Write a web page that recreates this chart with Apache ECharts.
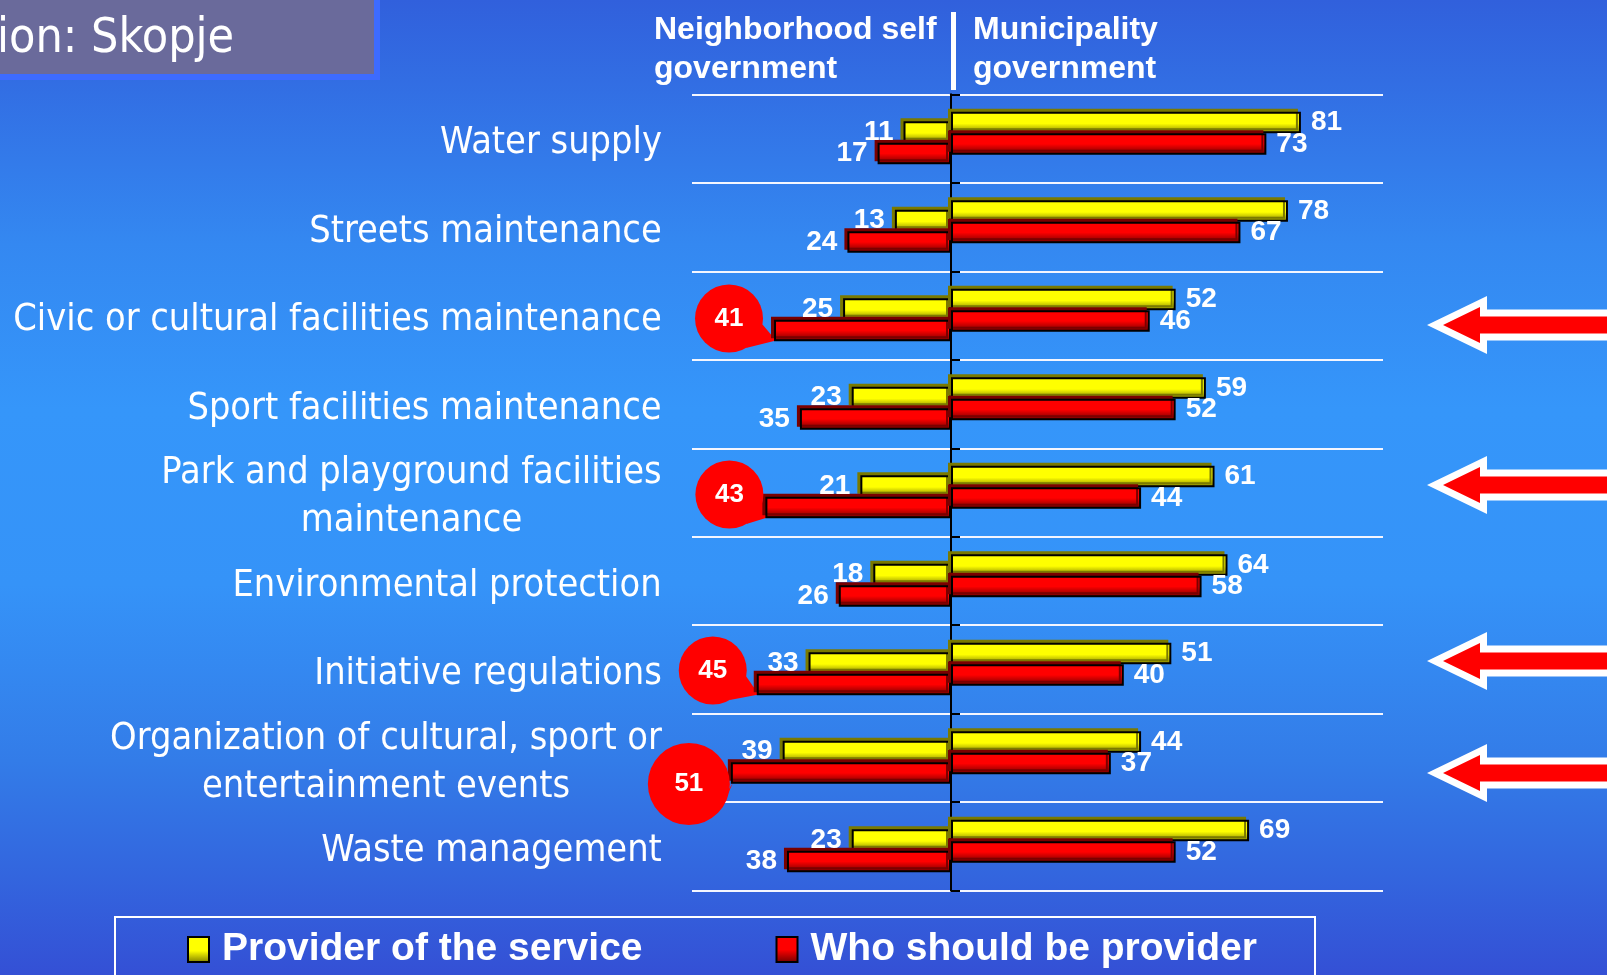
<!DOCTYPE html>
<html>
<head>
<meta charset="utf-8">
<title>Service providers: Skopje</title>
<script src="https://cdn.jsdelivr.net/npm/echarts@6/dist/echarts.min.js"></script>
<style>
  html, body { margin: 0; padding: 0; }
  #chart { width: 1607px; height: 975px; }
</style>
</head>
<body>
<div id="chart"></div>
<script>
// data
const categories = [
  'Water supply',
  'Streets maintenance',
  'Civic or cultural facilities maintenance',
  'Sport facilities maintenance',
  'Park and playground facilities\nmaintenance',
  'Environmental protection',
  'Initiative regulations',
  'Organization of cultural, sport or\nentertainment events',
  'Waste management'
]
const neighborhoodProvider = [11, 13, 25, 23, 21, 18, 33, 39, 23]
const neighborhoodShould = [17, 24, 41, 35, 43, 26, 45, 51, 38]
const municipalityProvider = [81, 78, 52, 59, 61, 64, 51, 44, 69]
const municipalityShould = [73, 67, 46, 52, 44, 58, 40, 37, 52]
const seriesNames = ['Provider of the service', 'Who should be provider']

// rows flagged with a red bubble + arrow (bubble size / offset is styling)
const callouts = {
  2: { size: 68, dx: -45, dy: -12 },
  4: { size: 68, dx: -36, dy: -13 },
  6: { size: 68, dx: -44, dy: -14 },
  7: { size: 82, dx: -42, dy: 11 }
}
const arrowY = [325, 485, 661, 773]

const labelFont = 'DejaVu Sans Condensed, DejaVu Sans, sans-serif'
const labelSize = 37.6
const boldFont = 'Liberation Sans, Arial, sans-serif'

// multi-line category labels are centred as a block, so measure each line
const measureCtx = document.createElement('canvas').getContext('2d')
measureCtx.font = labelSize + 'px ' + labelFont
const catRich = {}
categories.forEach((c, i) => {
  const w = Math.max(...c.split('\n').map(l => measureCtx.measureText(l).width))
  catRich['c' + i] = {
    width: Math.ceil(w) + 2, align: 'center', color: '#fff',
    fontSize: labelSize, fontFamily: labelFont, lineHeight: 48
  }
})

const yellowStyle = {
  color: new echarts.graphic.LinearGradient(0, 0, 0, 1, [
    { offset: 0, color: '#ffff00' },
    { offset: 0.55, color: '#ffff00' },
    { offset: 1, color: '#7c7c00' }
  ]),
  borderColor: '#000', borderWidth: 2,
  shadowColor: '#7a7a00', shadowOffsetX: -3, shadowOffsetY: -3, shadowBlur: 0
}
const redStyle = {
  color: new echarts.graphic.LinearGradient(0, 0, 0, 1, [
    { offset: 0, color: '#ff0000' },
    { offset: 0.5, color: '#ff0000' },
    { offset: 1, color: '#6e0000' }
  ]),
  borderColor: '#000', borderWidth: 2,
  shadowColor: '#7a0000', shadowOffsetX: -3, shadowOffsetY: -3, shadowBlur: 0
}

const numLabel = (pos) => ({
  show: true, position: pos, distance: 10,
  color: '#fff', fontSize: 28, fontWeight: 'bold', fontFamily: boldFont
})

const neighborhoodShouldData = neighborhoodShould.map((v, i) => {
  const c = callouts[i]
  if (!c) return v
  return {
    value: v,
    label: {
      show: true, position: 'left', distance: 0, align: 'center', verticalAlign: 'middle',
      offset: [c.dx, c.dy], width: c.size, height: c.size, lineHeight: c.size,
      borderRadius: c.size / 2, backgroundColor: '#ff0000',
      color: '#fff', fontSize: 26, fontWeight: 'bold', fontFamily: boldFont
    }
  }
})

const chart = echarts.init(document.getElementById('chart'))

const option = {
  animation: false,
  backgroundColor: new echarts.graphic.LinearGradient(0, 0, 0, 1, [
    { offset: 0, color: '#3160dc' },
    { offset: 0.25, color: '#3488f1' },
    { offset: 0.42, color: '#3596fa' },
    { offset: 0.6, color: '#3593f8' },
    { offset: 0.78, color: '#337ce8' },
    { offset: 0.9, color: '#3365de' },
    { offset: 1, color: '#3450d5' }
  ]),
  grid: [
    { left: 692, top: 98.5, width: 259, height: 796.5 },
    { left: 951, top: 89, width: 432, height: 796.5 },
    { left: 692, top: 94.3, width: 691, height: 796.4 }
  ],
  xAxis: [
    { gridIndex: 0, type: 'value', min: 0, max: 60, inverse: true, show: false },
    { gridIndex: 1, type: 'value', min: 0, max: 100, show: false },
    { gridIndex: 2, type: 'value', min: 0, max: 1, show: false }
  ],
  yAxis: [
    { gridIndex: 0, type: 'category', data: categories, inverse: true, show: false },
    { gridIndex: 1, type: 'category', data: categories, inverse: true, show: false },
    {
      gridIndex: 2, type: 'category', data: categories, inverse: true,
      axisLine: { show: false }, axisTick: { show: false },
      splitLine: { show: true, lineStyle: { color: '#f4f6ff', width: 2 } },
      axisLabel: {
        margin: 29, color: '#fff', fontSize: labelSize, fontFamily: labelFont, lineHeight: 48,
        padding: [10, 0, 0, 0],
        formatter: (val, i) => val.split('\n').map(l => '{c' + i + '|' + l + '}').join('\n'),
        rich: catRich
      }
    },
    {
      // black centre axis with its small ticks
      gridIndex: 2, type: 'category', data: categories, inverse: true,
      position: 'left', offset: -259,
      axisLine: { show: true, lineStyle: { color: '#000', width: 2 } },
      axisTick: { show: true, inside: true, length: 9, lineStyle: { color: '#000', width: 2 } },
      axisLabel: { show: false }, splitLine: { show: false }
    }
  ],
  legend: {
    data: seriesNames,
    left: 187, top: 930, padding: 0,
    icon: 'rect', itemWidth: 21, itemHeight: 25, itemGap: 133,
    textStyle: {
      color: '#fff', fontSize: 39, fontWeight: 'bold', fontFamily: boldFont,
      padding: [0, 0, 0, 8]
    }
  },
  series: [
    {
      name: seriesNames[0], type: 'bar', xAxisIndex: 0, yAxisIndex: 0,
      data: neighborhoodProvider, barWidth: 21.5, barGap: '0%',
      itemStyle: yellowStyle, label: numLabel('left')
    },
    {
      name: seriesNames[1], type: 'bar', xAxisIndex: 0, yAxisIndex: 0,
      data: neighborhoodShouldData, barWidth: 21.5, barGap: '0%',
      itemStyle: redStyle, label: numLabel('left')
    },
    {
      name: seriesNames[0], type: 'bar', xAxisIndex: 1, yAxisIndex: 1,
      data: municipalityProvider, barWidth: 21.5, barGap: '0%',
      itemStyle: yellowStyle, label: numLabel('right')
    },
    {
      name: seriesNames[1], type: 'bar', xAxisIndex: 1, yAxisIndex: 1,
      data: municipalityShould, barWidth: 21.5, barGap: '0%',
      itemStyle: redStyle, label: numLabel('right')
    }
  ]
}

chart.setOption(option)

// decorations: title box, column headers, legend frame, arrows, bubble tails
const graphics = [
  {
    type: 'rect', shape: { x: -6, y: -6, width: 383, height: 83 },
    style: { fill: '#6a6a9b', stroke: '#3d6bff', lineWidth: 6 }, z: 10
  },
  {
    type: 'text', x: -3, y: 40,
    style: {
      text: 'ion: Skopje', fill: '#fff', font: '48px ' + labelFont,
      textVerticalAlign: 'middle'
    }, z: 11
  },
  { type: 'rect', shape: { x: 951, y: 12, width: 5, height: 78 }, style: { fill: '#fff' }, z: 10 },
  {
    type: 'text', x: 654, y: 11,
    style: {
      text: 'Neighborhood self\ngovernment', fill: '#fff', font: 'bold 32px ' + boldFont,
      lineHeight: 39
    }, z: 10
  },
  {
    type: 'text', x: 973, y: 11,
    style: {
      text: 'Municipality\ngovernment', fill: '#fff', font: 'bold 32px ' + boldFont,
      lineHeight: 39
    }, z: 10
  },
  {
    type: 'rect', shape: { x: 115, y: 917, width: 1200, height: 80 },
    style: { fill: 'none', stroke: '#fff', lineWidth: 2 }, z: 1
  }
]

arrowY.forEach(y => {
  graphics.push({
    type: 'polygon', z: 10,
    shape: { points: [[1427, y], [1487, y - 29], [1487, y - 15.5], [1620, y - 15.5], [1620, y + 15.5], [1487, y + 15.5], [1487, y + 29]] },
    style: { fill: '#fff' }
  })
  graphics.push({
    type: 'polygon', z: 11,
    shape: { points: [[1443, y], [1480, y - 18], [1480, y - 8.4], [1620, y - 8.4], [1620, y + 8.4], [1480, y + 8.4], [1480, y + 18]] },
    style: { fill: '#ff0000' }
  })
})

Object.keys(callouts).forEach(k => {
  const i = +k
  const c = callouts[k]
  const p = chart.convertToPixel({ xAxisIndex: 0, yAxisIndex: 0 }, [neighborhoodShould[i], i])
  const barY = p[1] + 10.75
  const cx = p[0] + c.dx
  const cy = barY + c.dy
  const r = c.size / 2
  const a1 = 10 * Math.PI / 180
  const a2 = 60 * Math.PI / 180
  graphics.push({
    type: 'polygon', z: 1,
    shape: { points: [
      [cx + r * Math.cos(a1), cy + r * Math.sin(a1)],
      [p[0] + 2, barY + 10],
      [cx + r * Math.cos(a2), cy + r * Math.sin(a2)]
    ] },
    style: { fill: '#ff0000' }
  })
})

chart.setOption({ graphic: graphics })
</script>
</body>
</html>
